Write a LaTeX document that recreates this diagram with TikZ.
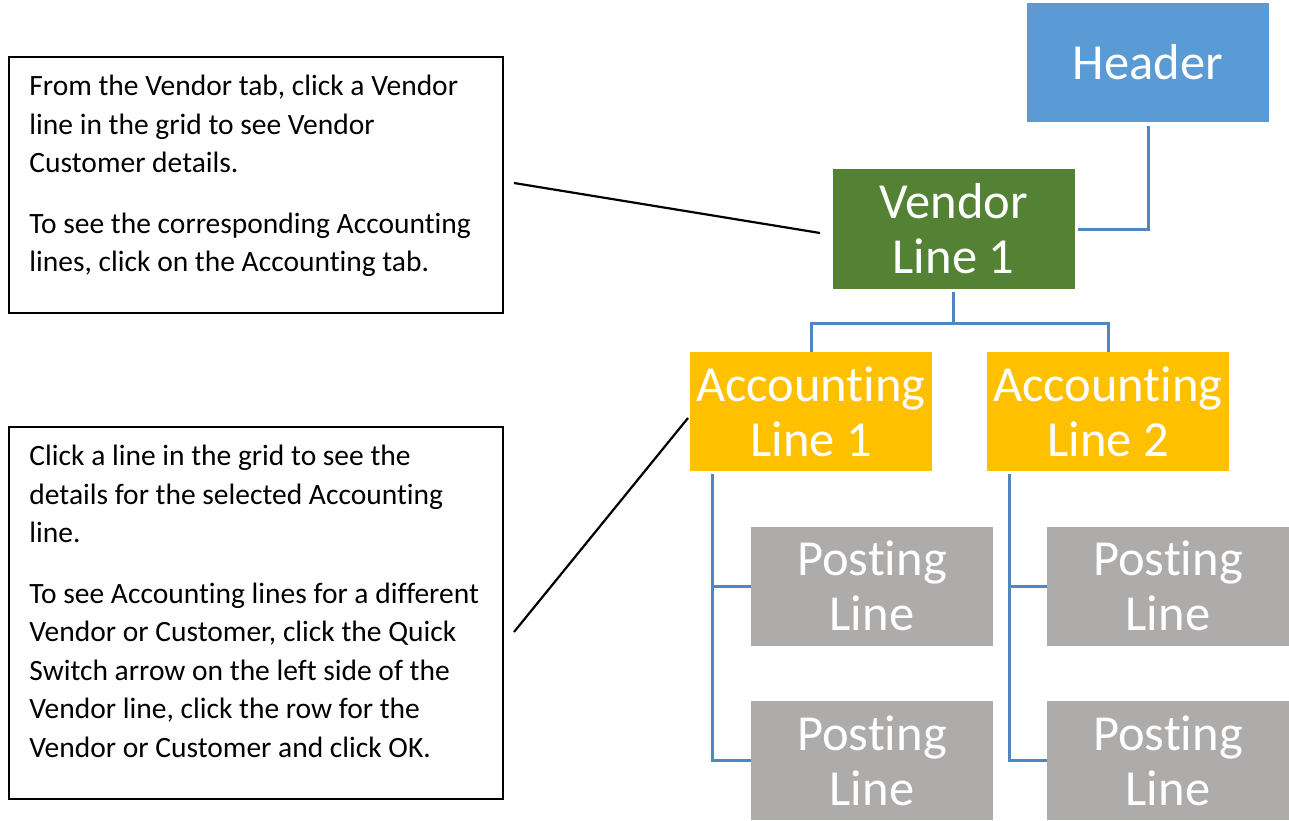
\documentclass[tikz,border=0pt]{standalone}
\usepackage{fontspec}
\setmainfont{Carlito}[Ligatures=NoCommon,RawFeature={-clig;-calt;-dlig}]
\usetikzlibrary{positioning}
\definecolor{hdrblue}{HTML}{5B9BD5}
\definecolor{vndgreen}{HTML}{548235}
\definecolor{accgold}{HTML}{FFC000}
\definecolor{pstgrey}{HTML}{AEABAB}
\definecolor{linkblue}{HTML}{4F87C2}
\tikzset{
  orgbox/.style={minimum width=242pt, minimum height=119pt, inner sep=0pt,
    text=white, align=center, font=\fontsize{50.5}{55}\selectfont},
  conn/.style={linkblue, line width=3pt},
  notebox/.style={draw, line width=1.5pt, minimum width=494pt, inner sep=0pt},
  notetext/.style={align=left, inner sep=0pt, anchor=north west,
    font=\fontsize{29.5}{38.5}\selectfont},
  callout/.style={line width=2.2pt}
}
\begin{document}
\begin{tikzpicture}[x=1pt,y=-1pt]
\useasboundingbox (0,0) rectangle (1289,821);
% org chart
\node[orgbox, fill=hdrblue] (header) at (1148,62.5) {Header};
\node[orgbox, fill=vndgreen] (vendor) at (953.5,229) {Vendor\\Line 1};
\node[orgbox, fill=accgold] (acc1) at (811,411.5) {Accounting\\Line 1};
\node[orgbox, fill=accgold] (acc2) at (1108,411.5) {Accounting\\Line 2};
\foreach \c/\x in {1/872,2/1168} {
  \node[orgbox, fill=pstgrey] (post\c1) at (\x,586) {Posting\\Line};
  \node[orgbox, fill=pstgrey] (post\c2) at (\x,760.5) {Posting\\Line};
}
\draw[conn, shorten <=4pt, shorten >=3pt] (header.south) |- (vendor.east);
\draw[conn, shorten <=3pt] (vendor.south) -- ++(0,35) coordinate (bus) -| (acc1.north);
\draw[conn] (bus) -| (acc2.north);
\foreach \c/\a in {1/acc1,2/acc2} {
  \draw[conn, shorten <=3pt] ([xshift=23pt]\a.south west) |- (post\c1.west);
  \draw[conn, shorten <=3pt] ([xshift=23pt]\a.south west) |- (post\c2.west);
}
% notes
\node[notebox, minimum height=256pt] (note1) at (256,185) {};
\node[notetext] at ([xshift=21pt,yshift=-19pt]note1.north west)
  {From the Vendor tab, click a Vendor\\
   line in the grid to see Vendor\\
   Customer details.\\[22pt]
   To see the corresponding Accounting\\
   lines, click on the Accounting tab.};
\node[notebox, minimum height=372pt] (note2) at (256,613) {};
\node[notetext] at ([xshift=21pt,yshift=-19pt]note2.north west)
  {Click a line in the grid to see the\\
   details for the selected Accounting\\
   line.\\[22pt]
   To see Accounting lines for a different\\
   Vendor or Customer, click the Quick\\
   Switch arrow on the left side of the\\
   Vendor line, click the row for the\\
   Vendor or Customer and click OK.};
% callouts
\coordinate (c1a) at (514,183);
\coordinate (c1b) at (820,233);
\coordinate (c2a) at (514,632);
\coordinate (c2b) at (688,418);
\draw[callout] (c1a) -- (c1b);
\draw[callout] (c2a) -- (c2b);
\end{tikzpicture}
\end{document}
